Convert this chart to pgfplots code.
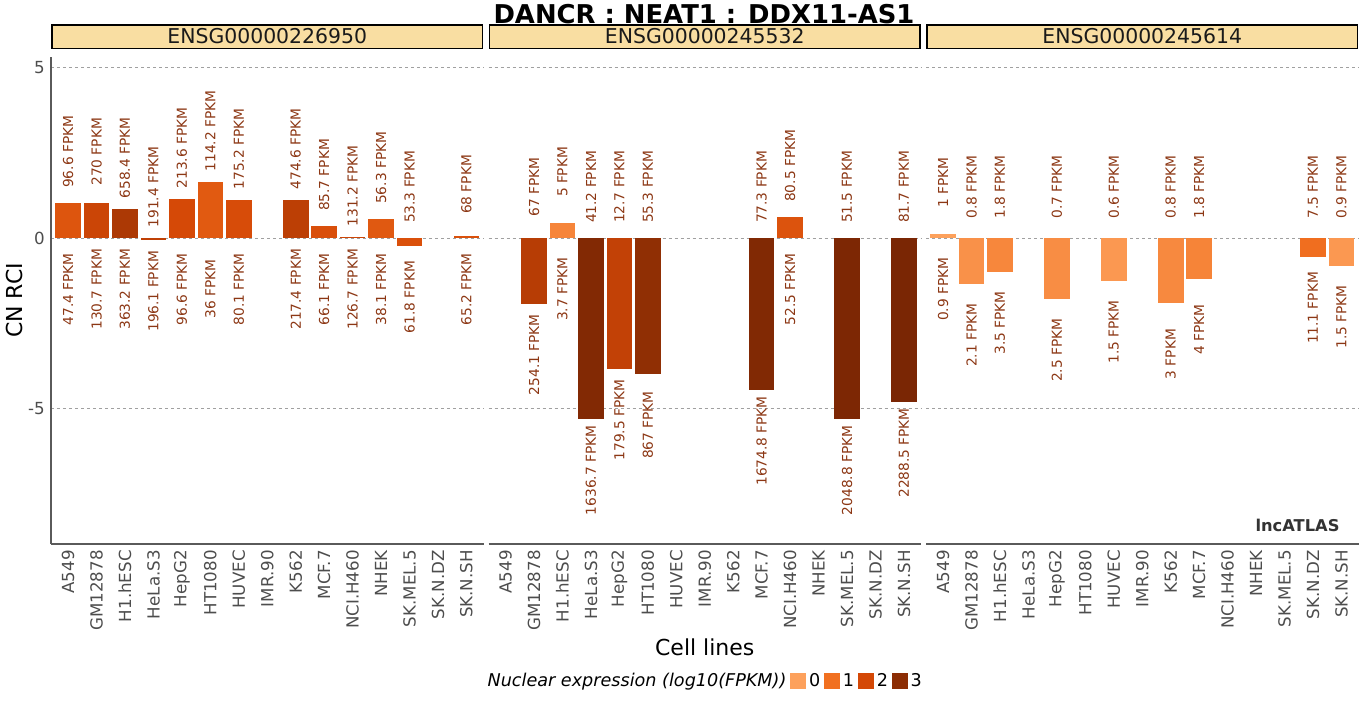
\documentclass[border=0pt]{standalone}
\usepackage{pgfplots}
\pgfplotsset{compat=1.18}
\usepackage{fontspec}
\setmainfont{DejaVu Sans}
\definecolor{c0}{RGB}{253,161,92}
\definecolor{c1}{RGB}{241,112,32}
\definecolor{c2}{RGB}{212,72,6}
\definecolor{c3}{RGB}{140,45,4}
\definecolor{c4}{RGB}{122,38,4}
\definecolor{lblc}{RGB}{140,55,20}
\definecolor{grayt}{RGB}{77,77,77}
\definecolor{gridc}{RGB}{160,160,160}
\definecolor{stripc}{RGB}{249,222,162}
\definecolor{striptxt}{RGB}{26,26,26}
\definecolor{axc}{RGB}{90,90,90}
\newcommand\lblfont{\fontsize{10.3}{12}\selectfont}
\pgfplotsset{
  panel/.style={
    scale only axis, width=324.375pt, height=365.25pt, anchor=south west,
    xmin=0.4, xmax=15.6, ymin=-8.97, ymax=5.31, clip=false,
    xtick={1,...,15},
    xticklabels={A549,GM12878,H1.hESC,HeLa.S3,HepG2,HT1080,HUVEC,IMR.90,K562,MCF.7,NCI.H460,NHEK,SK.MEL.5,SK.N.DZ,SK.N.SH},
    ytick={-5,0,5},
    /pgf/number format/assume math mode=true,
    major tick length=0pt,
    ticklabel style={font=\fontsize{12.5}{14}\selectfont, text=grayt},
    xticklabel style={rotate=90, anchor=east, inner xsep=4.5pt, inner ysep=0pt},
    yticklabel style={anchor=east, inner xsep=4.5pt},
    ymajorgrids, grid style={gridc, line width=0.5pt, dash pattern=on 2.5pt off 2pt},
    axis x line*=bottom, axis y line*=left,
    axis line style={axc, line width=0.9pt},
    title style={at={(0.5,1)}, anchor=south, yshift=0pt, fill=stripc, draw=black,
      line width=1.1pt, minimum width=323pt, minimum height=17.6pt, inner sep=0pt,
      font=\fontsize{15.3}{17}\selectfont, text=striptxt},
  },
  bbar/.style={ybar, bar width=0.9, bar shift=0pt, draw=none, fill=#1, forget plot},
  lbl/.style={draw=none, mark=none, forget plot, nodes near coords={\pgfplotspointmeta},
    point meta=explicit symbolic,
    nodes near coords style={rotate=90, anchor=center, font=\lblfont, text=lblc, inner sep=0pt}},
}
\begin{document}
\begin{tikzpicture}
% ---------- Panel 1 ----------
\begin{axis}[panel, at={(38.25pt,117pt)}, title={ENSG00000226950},
  ylabel={CN RCI}, ylabel style={at={(axis description cs:-0.0855,0.5)}, anchor=center, font=\fontsize{16.5}{19}\selectfont}]
\addplot[bbar=c2!68!c1] coordinates {(1,1.03)};
\addplot[bbar=c3!12!c2] coordinates {(2,1.03)};
\addplot[bbar=c3!56!c2] coordinates {(3,0.85)};
\addplot[bbar=c3!29!c2] coordinates {(4,-0.06)};
\addplot[bbar=c2!98!c1] coordinates {(5,1.14)};
\addplot[bbar=c2!56!c1] coordinates {(6,1.64)};
\addplot[bbar=c2!90!c1] coordinates {(7,1.11)};
\addplot[bbar=c3!34!c2] coordinates {(9,1.11)};
\addplot[bbar=c2!82!c1] coordinates {(10,0.35)};
\addplot[bbar=c3!10!c2] coordinates {(11,0.03)};
\addplot[bbar=c2!58!c1] coordinates {(12,0.56)};
\addplot[bbar=c2!79!c1] coordinates {(13,-0.23)};
\addplot[bbar=c2!81!c1] coordinates {(15,0.07)};
\addplot[lbl] coordinates {(1,2.53)[96.6 FPKM] (2,2.53)[270 FPKM] (3,2.35)[658.4 FPKM] (4,1.5)[191.4 FPKM] (5,2.64)[213.6 FPKM] (6,3.14)[114.2 FPKM] (7,2.61)[175.2 FPKM] (9,2.61)[474.6 FPKM] (10,1.85)[85.7 FPKM] (11,1.53)[131.2 FPKM] (12,2.06)[56.3 FPKM] (13,1.5)[53.3 FPKM] (15,1.57)[68 FPKM]};
\addplot[lbl] coordinates {(1,-1.5)[47.4 FPKM] (2,-1.5)[130.7 FPKM] (3,-1.5)[363.2 FPKM] (4,-1.56)[196.1 FPKM] (5,-1.5)[96.6 FPKM] (6,-1.5)[36 FPKM] (7,-1.5)[80.1 FPKM] (9,-1.5)[217.4 FPKM] (10,-1.5)[66.1 FPKM] (11,-1.5)[126.7 FPKM] (12,-1.5)[38.1 FPKM] (13,-1.73)[61.8 FPKM] (15,-1.5)[65.2 FPKM]};
\end{axis}
% ---------- Panel 2 ----------
\begin{axis}[panel, at={(366.375pt,117pt)}, title={ENSG00000245532},
  y axis line style={draw=none}, yticklabels={},
  xlabel={Cell lines}, xlabel style={at={(axis description cs:0.5,-0.2115)}, anchor=center, font=\fontsize{16.5}{19}\selectfont},
  legend style={at={(0.5,-0.2813)}, anchor=center, draw=none, fill=none, legend columns=-1,
    font=\fontsize{13.2}{15}\selectfont, inner sep=0pt,
    /tikz/every even column/.append style={column sep=1pt}},
  legend image code/.code={\fill[#1] (0pt,-6pt) rectangle (12pt,6pt);}]
\addlegendimage{empty legend}\addlegendentry{\itshape Nuclear expression (log10(FPKM))}
\addlegendimage{fill=c0, draw=none}\addlegendentry{0}
\addlegendimage{fill=c1, draw=none}\addlegendentry{1}
\addlegendimage{fill=c2, draw=none}\addlegendentry{2}
\addlegendimage{fill=c3, draw=none}\addlegendentry{3}
\addplot[bbar=c3!40!c2] coordinates {(2,-1.92)};
\addplot[bbar=c1!57!c0] coordinates {(3,0.44)};
\addplot[bbar=c4!58!c3] coordinates {(4,-5.31)};
\addplot[bbar=c3!25!c2] coordinates {(5,-3.83)};
\addplot[bbar=c3!94!c2] coordinates {(6,-3.98)};
\addplot[bbar=c4!61!c3] coordinates {(10,-4.45)};
\addplot[bbar=c2!72!c1] coordinates {(11,0.62)};
\addplot[bbar=c4!86!c3] coordinates {(13,-5.31)};
\addplot[bbar=c4] coordinates {(15,-4.8)};
\addplot[lbl] coordinates {(2,1.5)[67 FPKM] (3,1.94)[5 FPKM] (4,1.5)[41.2 FPKM] (5,1.5)[12.7 FPKM] (6,1.5)[55.3 FPKM] (10,1.5)[77.3 FPKM] (11,2.12)[80.5 FPKM] (13,1.5)[51.5 FPKM] (15,1.5)[81.7 FPKM]};
\addplot[lbl] coordinates {(2,-3.42)[254.1 FPKM] (3,-1.5)[3.7 FPKM] (4,-6.81)[1636.7 FPKM] (5,-5.33)[179.5 FPKM] (6,-5.48)[867 FPKM] (10,-5.95)[1674.8 FPKM] (11,-1.5)[52.5 FPKM] (13,-6.81)[2048.8 FPKM] (15,-6.3)[2288.5 FPKM]};
\end{axis}
% ---------- Panel 3 ----------
\begin{axis}[panel, at={(694.5pt,117pt)}, title={ENSG00000245614},
  y axis line style={draw=none}, yticklabels={}]
\addplot[bbar=c0] coordinates {(1,0.12)};
\addplot[bbar=c1!32!c0] coordinates {(2,-1.35)};
\addplot[bbar=c1!54!c0] coordinates {(3,-0.99)};
\addplot[bbar=c1!40!c0] coordinates {(5,-1.79)};
\addplot[bbar=c1!18!c0] coordinates {(7,-1.25)};
\addplot[bbar=c1!48!c0] coordinates {(9,-1.9)};
\addplot[bbar=c1!60!c0] coordinates {(10,-1.19)};
\addplot[bbar=c2!5!c1] coordinates {(14,-0.55)};
\addplot[bbar=c1!18!c0] coordinates {(15,-0.81)};
\addplot[lbl] coordinates {(1,1.62)[1 FPKM] (2,1.5)[0.8 FPKM] (3,1.5)[1.8 FPKM] (5,1.5)[0.7 FPKM] (7,1.5)[0.6 FPKM] (9,1.5)[0.8 FPKM] (10,1.5)[1.8 FPKM] (14,1.5)[7.5 FPKM] (15,1.5)[0.9 FPKM]};
\addplot[lbl] coordinates {(1,-1.5)[0.9 FPKM] (2,-2.85)[2.1 FPKM] (3,-2.49)[3.5 FPKM] (5,-3.29)[2.5 FPKM] (7,-2.75)[1.5 FPKM] (9,-3.4)[3 FPKM] (10,-2.69)[4 FPKM] (14,-2.05)[11.1 FPKM] (15,-2.31)[1.5 FPKM]};
\node[font=\bfseries\fontsize{12.2}{14}\selectfont, text={rgb,255:red,51;green,51;blue,51}] at (rel axis cs:0.859,0.039) {lncATLAS};
\end{axis}
\node[anchor=base, font=\bfseries\fontsize{19.4}{22}\selectfont] at (528pt,507pt) {DANCR : NEAT1 : DDX11-AS1};
\pgfresetboundingbox
\useasboundingbox (0,0) rectangle (1023pt,525pt);
\end{tikzpicture}
\end{document}
